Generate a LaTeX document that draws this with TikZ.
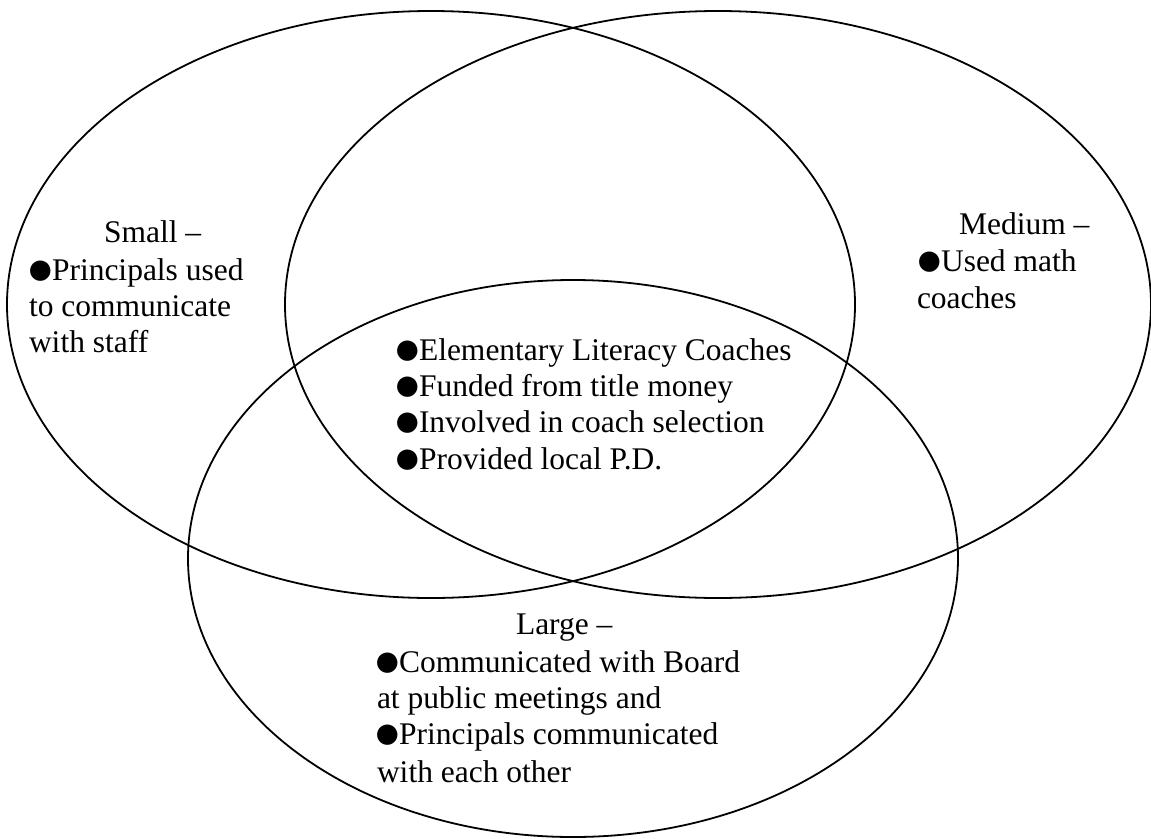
\documentclass[tikz,border=0pt]{standalone}
\usepackage{fontspec}
\setmainfont{Liberation Serif}
\usetikzlibrary{shapes.geometric}
% large round bullet sitting on the baseline, followed by the item text
\newcommand{\blt}{\makebox[22pt][l]{\hspace*{-4pt}\smash{\raisebox{-4pt}{\scalebox{1.5}{●}}}}}
\begin{document}
\begin{tikzpicture}[x=1pt,y=-1pt,
  setring/.style={draw, ellipse, line width=1.8pt, inner sep=0pt, outer sep=0pt},
  txt/.style={anchor=base west, inner sep=0pt, outer sep=0pt,
    font=\fontsize{31.5}{36.5}\selectfont}]
  \useasboundingbox (0,0) rectangle (1151,838);

  % the three overlapping sets
  \node[setring, minimum width=848pt, minimum height=587pt] (small) at (431,304.5) {};
  \node[setring, minimum width=866pt, minimum height=587pt] (medium) at (718,304.5) {};
  \node[setring, minimum width=770pt, minimum height=557pt] (large) at (573,558.5) {};

  % small districts
  \node[txt] (s0) at (104,242) {Small –};
  \node[txt] (s1) at (30,280) {\blt Principals used};
  \node[txt] (s2) at (29,316) {to communicate};
  \node[txt] (s3) at (29,352) {with staff};

  % medium districts
  \node[txt] (m0) at (959,234) {Medium –};
  \node[txt] (m1) at (919,271) {\blt Used math};
  \node[txt] (m2) at (917,308) {coaches};

  % shared by all three
  \node[txt] (c1) at (397,360) {\blt Elementary Literacy Coaches};
  \node[txt] (c2) at (397,396) {\blt Funded from title money};
  \node[txt] (c3) at (397,432) {\blt Involved in coach selection};
  \node[txt] (c4) at (397,469) {\blt Provided local P.D.};

  % large districts
  \node[txt] (l0) at (516,634) {Large –};
  \node[txt] (l1) at (377,672) {\blt Communicated with Board};
  \node[txt] (l2) at (377,708) {at public meetings and};
  \node[txt] (l3) at (377,744) {\blt Principals communicated};
  \node[txt] (l4) at (377,782) {with each other};
\end{tikzpicture}
\end{document}
